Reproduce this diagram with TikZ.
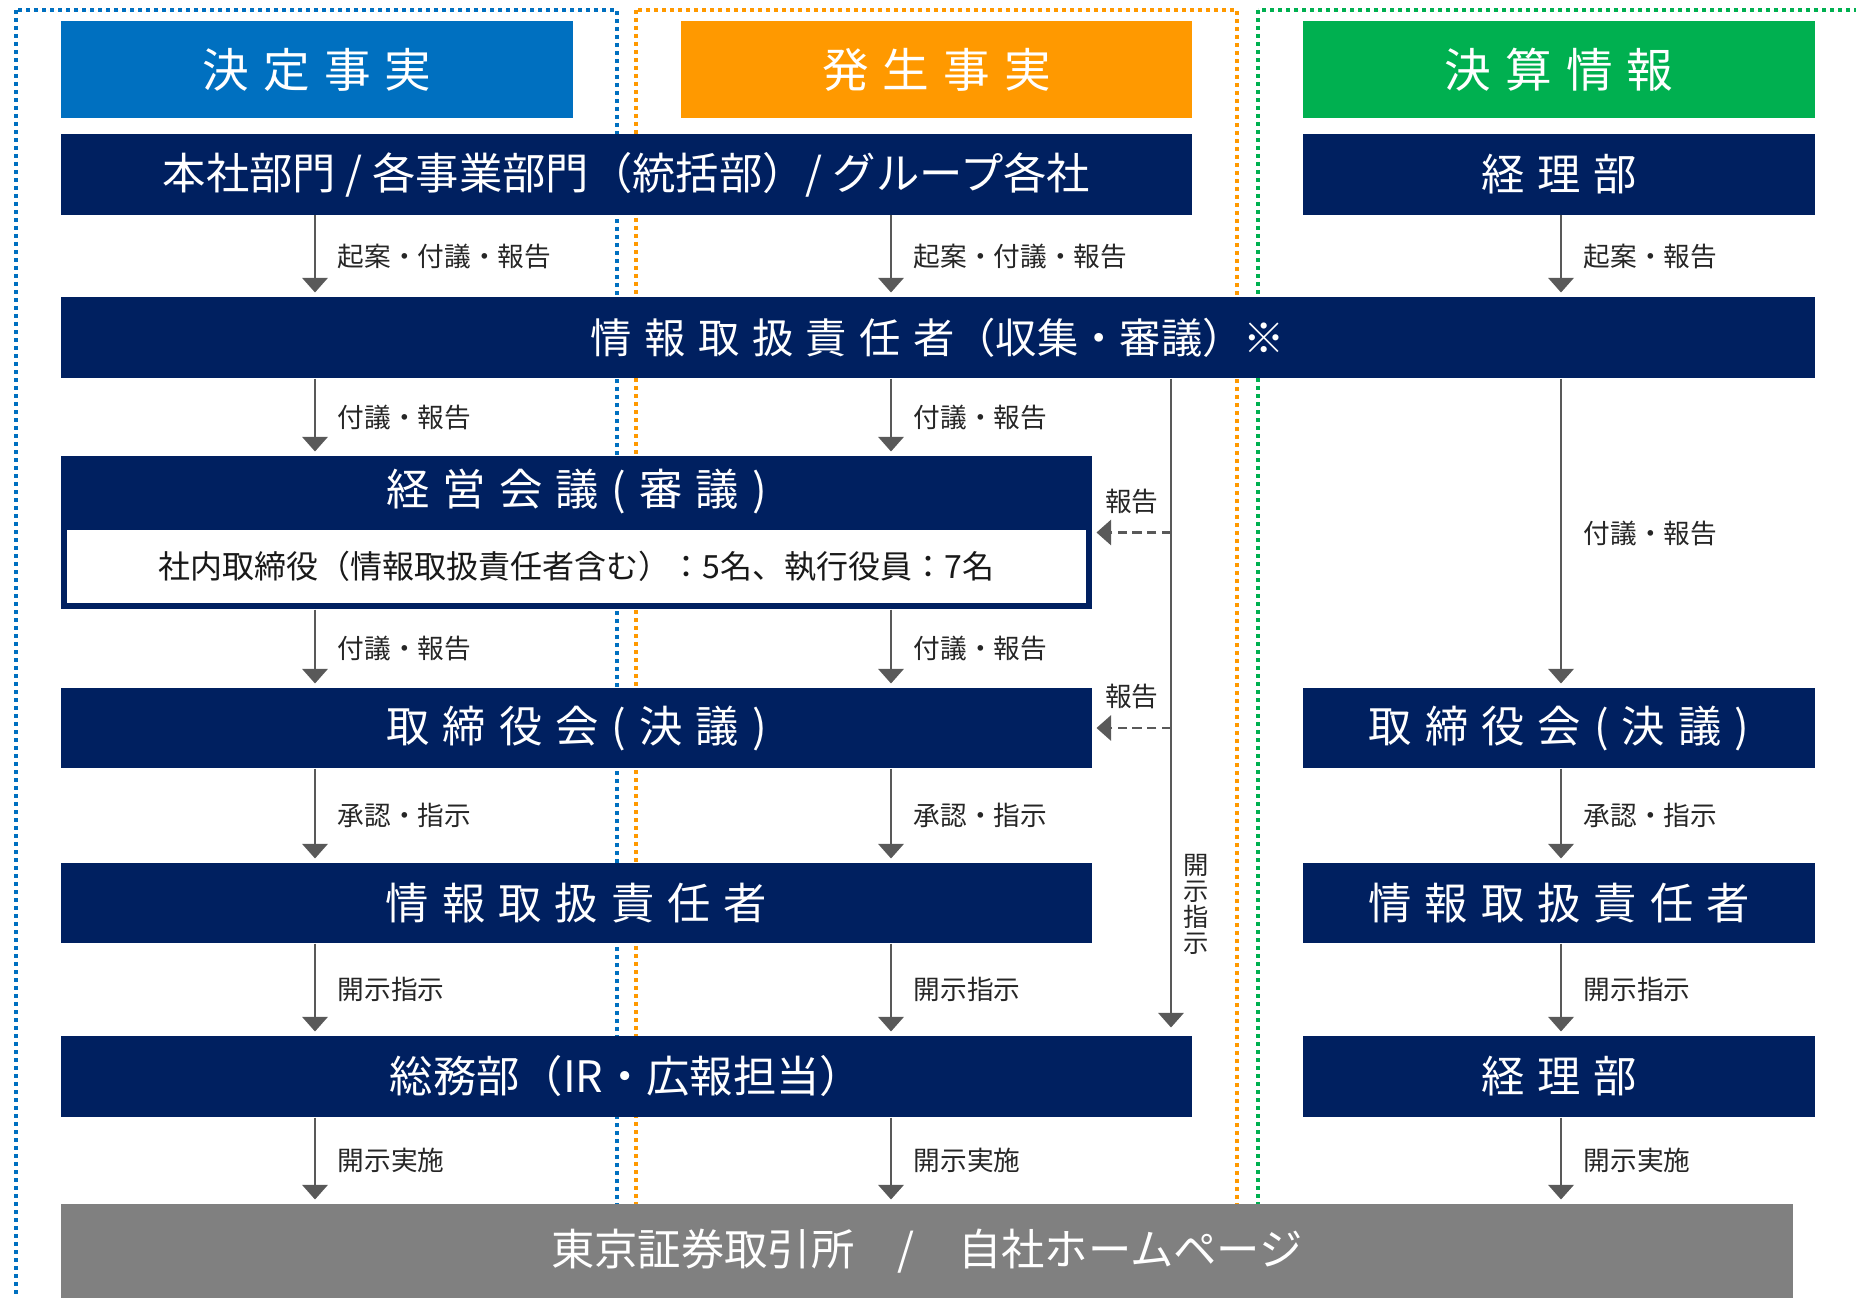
\documentclass[tikz,border=0pt]{standalone}
\usepackage{fontspec}
\setmainfont{Noto Sans CJK JP}
\usetikzlibrary{arrows.meta}

\definecolor{navy}{RGB}{0,32,96}
\definecolor{hdblue}{RGB}{0,112,192}
\definecolor{hdorange}{RGB}{255,153,0}
\definecolor{hdgreen}{RGB}{0,176,80}
\definecolor{arrowgray}{RGB}{89,89,89}
\definecolor{sitegray}{RGB}{128,128,128}

\newcommand{\kg}{\hspace{0.3em}}

\tikzset{every picture/.style={line width=0.75pt}}

\begin{document}
\begin{tikzpicture}[x=0.75pt,y=0.75pt,yscale=-1,xscale=1,
  cell/.style 2 args={minimum width=#1*0.75pt, minimum height=#2*0.75pt, inner sep=0},
  hdr/.style={text=white, font=\fontsize{35}{38}\selectfont},
  box/.style={fill=navy, text=white, font=\fontsize{32.5}{36}\selectfont},
  flow/.style={draw=arrowgray, line width=2pt, -{Triangle[width=19pt,length=11pt]}, shorten >=3pt},
  back/.style={flow, dash pattern=on 7pt off 4pt},
  lbl/.style={anchor=west, inner sep=0, xshift=16pt, text=black!85, font=\fontsize{20}{23}\selectfont},
  lane/.style={line width=2.6pt, dash pattern=on 3pt off 3pt}]
\useasboundingbox (0,0) rectangle (1856,1298);
\clip (0,0) rectangle (1856,1298);

%Lanes
\draw[lane, hdblue] (16,10) rectangle (617,1340);
\draw[lane, hdorange] (636,10) rectangle (1237,1340);
\draw[lane, hdgreen] (1258,10) rectangle (1900,1340);

%Arrow columns
\coordinate (colA) at (315,0);
\coordinate (colB) at (891,0);
\coordinate (colC) at (1561,0);
\coordinate (colD) at (1171,0);

%Headers
\node[hdr, fill=hdblue, cell={512}{97}] (hdDec) at (317,69.5) {決\kg 定\kg 事\kg 実};
\node[hdr, fill=hdorange, cell={511}{97}] (hdOcc) at (936.5,69.5) {発\kg 生\kg 事\kg 実};
\node[hdr, fill=hdgreen, cell={512}{97}] (hdFin) at (1559,69.5) {決\kg 算\kg 情\kg 報};

%Row 1
\node[box, cell={1131}{81}] (hq) at (626.5,174.5) {本社部門 / 各事業部門（統括部）/ グループ各社};
\node[box, cell={512}{81}] (acc) at (1559,174.5) {経\kg 理\kg 部};

%Row 2
\node[box, cell={1754}{81}, font=\fontsize{31}{34}\selectfont] (icoAll) at (938,337.5) {情\kg 報\kg 取\kg 扱\kg 責\kg 任\kg 者（収集・審議）※};

%Row 3
\node[fill=navy, cell={1031}{153}] (mgmt) at (576.5,532.5) {};
\node[box, cell={1031}{72}] (mgmtT) at (576.5,492) {経\kg 営\kg 会\kg 議\kg (\kg 審\kg 議\kg )};
\node[fill=white, cell={1019}{73}, text=black!90, font=\fontsize{24}{27}\selectfont] (mgmtM) at (576.5,566.5) {社内取締役（情報取扱責任者含む）：5名、執行役員：7名};

%Row 4
\node[box, cell={1031}{80}] (board) at (576.5,728) {取\kg 締\kg 役\kg 会\kg (\kg 決\kg 議\kg )};
\node[box, cell={512}{80}] (boardF) at (1559,728) {取\kg 締\kg 役\kg 会\kg (\kg 決\kg 議\kg )};

%Row 5
\node[box, cell={1031}{80}] (ico) at (576.5,903) {情\kg 報\kg 取\kg 扱\kg 責\kg 任\kg 者};
\node[box, cell={512}{80}] (icoF) at (1559,903) {情\kg 報\kg 取\kg 扱\kg 責\kg 任\kg 者};

%Row 6
\node[box, cell={1131}{81}] (ga) at (626.5,1076.5) {総務部（IR・広報担当）};
\node[box, cell={512}{81}] (accF) at (1559,1076.5) {経\kg 理\kg 部};

%Bottom
\node[fill=sitegray, cell={1732}{94}, text=white, font=\fontsize{32.5}{36}\selectfont] (tse) at (927,1251) {東京証券取引所　/　自社ホームページ};

%Flows: 決定事実
\draw[flow] (hq.south -| colA) -- (icoAll.north -| colA) node[lbl, midway] {起案・付議・報告};
\draw[flow] (icoAll.south -| colA) -- (mgmt.north -| colA) node[lbl, midway] {付議・報告};
\draw[flow] (mgmt.south -| colA) -- (board.north -| colA) node[lbl, midway] {付議・報告};
\draw[flow] (board.south -| colA) -- (ico.north -| colA) node[lbl, midway] {承認・指示};
\draw[flow] (ico.south -| colA) -- (ga.north -| colA) node[lbl, midway] {開示指示};
\draw[flow] (ga.south -| colA) -- (tse.north -| colA) node[lbl, midway] {開示実施};

%Flows: 発生事実
\draw[flow] (hq.south -| colB) -- (icoAll.north -| colB) node[lbl, midway] {起案・付議・報告};
\draw[flow] (icoAll.south -| colB) -- (mgmt.north -| colB) node[lbl, midway] {付議・報告};
\draw[flow] (mgmt.south -| colB) -- (board.north -| colB) node[lbl, midway] {付議・報告};
\draw[flow] (board.south -| colB) -- (ico.north -| colB) node[lbl, midway] {承認・指示};
\draw[flow] (ico.south -| colB) -- (ga.north -| colB) node[lbl, midway] {開示指示};
\draw[flow] (ga.south -| colB) -- (tse.north -| colB) node[lbl, midway] {開示実施};

%Flows: direct disclosure
\draw[flow, shorten >=6pt] (icoAll.south -| colD) -- (ga.north -| colD)
  node[lbl, pos=0.8, xshift=-8pt, align=center, font=\fontsize{19}{19.5}\selectfont] {開\\示\\指\\示};
\draw[back] (mgmt.east -| colD) -- (mgmt.east) node[midway, above=13pt, inner sep=0, text=black!85, font=\fontsize{20}{23}\selectfont] {報告};
\draw[back] (board.east -| colD) -- (board.east) node[midway, above=13pt, inner sep=0, text=black!85, font=\fontsize{20}{23}\selectfont] {報告};

%Flows: 決算情報
\draw[flow] (acc.south -| colC) -- (icoAll.north -| colC) node[lbl, midway] {起案・報告};
\draw[flow] (icoAll.south -| colC) -- (boardF.north -| colC) node[lbl, midway] {付議・報告};
\draw[flow] (boardF.south -| colC) -- (icoF.north -| colC) node[lbl, midway] {承認・指示};
\draw[flow] (icoF.south -| colC) -- (accF.north -| colC) node[lbl, midway] {開示指示};
\draw[flow] (accF.south -| colC) -- (tse.north -| colC) node[lbl, midway] {開示実施};

\end{tikzpicture}
\end{document}
